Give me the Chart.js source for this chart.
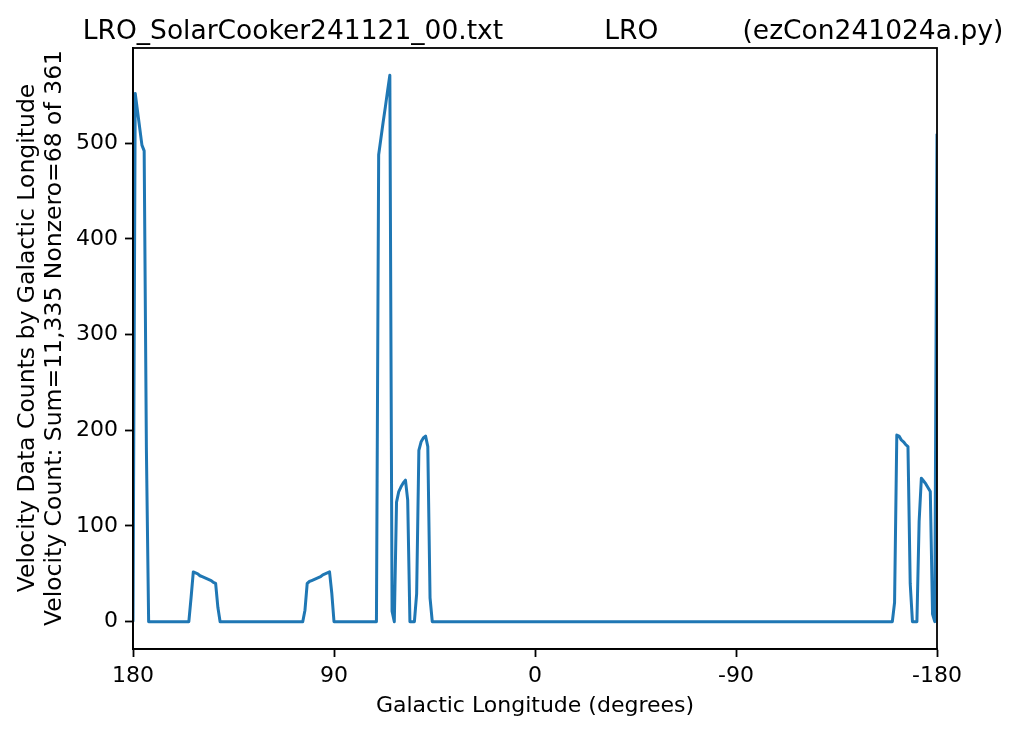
<!DOCTYPE html>
<html>
<head>
<meta charset="utf-8">
<script src="https://cdn.jsdelivr.net/npm/chart.js@4.4.1/dist/chart.umd.min.js"></script>
<style>
  html, body { margin: 0; padding: 0; background: #fff; }
</style>
</head>
<body>
<canvas id="lonChart" width="1024" height="735"></canvas>
<script>
// one bin per degree, +180 down to -180
const lonStart = 180;
const counts = [
  0, 552, 534, 516, 498, 492, 180, 0, 0, 0, 0, 0, 0, 0, 0, 0, 0, 0, 0, 0,
  0, 0, 0, 0, 0, 0, 25, 52, 51, 50, 48, 47, 46, 45, 44, 43, 41, 40, 15, 0,
  0, 0, 0, 0, 0, 0, 0, 0, 0, 0, 0, 0, 0, 0, 0, 0, 0, 0, 0, 0,
  0, 0, 0, 0, 0, 0, 0, 0, 0, 0, 0, 0, 0, 0, 0, 0, 0, 12, 40, 42,
  43, 44, 45, 46, 47, 49, 50, 51, 52, 30, 0, 0, 0, 0, 0, 0, 0, 0, 0, 0,
  0, 0, 0, 0, 0, 0, 0, 0, 0, 0, 488, 505, 522, 538, 555, 571, 11, 0, 125, 136,
  141, 145, 148, 127, 0, 0, 0, 29, 179, 188, 192, 194, 183, 25, 0, 0, 0, 0, 0, 0,
  0, 0, 0, 0, 0, 0, 0, 0, 0, 0, 0, 0, 0, 0, 0, 0, 0, 0, 0, 0,
  0, 0, 0, 0, 0, 0, 0, 0, 0, 0, 0, 0, 0, 0, 0, 0, 0, 0, 0, 0,
  0, 0, 0, 0, 0, 0, 0, 0, 0, 0, 0, 0, 0, 0, 0, 0, 0, 0, 0, 0,
  0, 0, 0, 0, 0, 0, 0, 0, 0, 0, 0, 0, 0, 0, 0, 0, 0, 0, 0, 0,
  0, 0, 0, 0, 0, 0, 0, 0, 0, 0, 0, 0, 0, 0, 0, 0, 0, 0, 0, 0,
  0, 0, 0, 0, 0, 0, 0, 0, 0, 0, 0, 0, 0, 0, 0, 0, 0, 0, 0, 0,
  0, 0, 0, 0, 0, 0, 0, 0, 0, 0, 0, 0, 0, 0, 0, 0, 0, 0, 0, 0,
  0, 0, 0, 0, 0, 0, 0, 0, 0, 0, 0, 0, 0, 0, 0, 0, 0, 0, 0, 0,
  0, 0, 0, 0, 0, 0, 0, 0, 0, 0, 0, 0, 0, 0, 0, 0, 0, 0, 0, 0,
  0, 0, 0, 0, 0, 0, 0, 0, 0, 0, 0, 0, 0, 0, 0, 0, 0, 0, 0, 0,
  0, 20, 195, 194, 190, 188, 185, 183, 40, 0, 0, 0, 105, 150, 147, 144, 140, 136, 8, 0,
  510
];
const xTicks = [180, 90, 0, -90, -180];
const yTicks = [0, 100, 200, 300, 400, 500];
const titleText = "LRO_SolarCooker241121_00.txt            LRO          (ezCon241024a.py)";
const xLabel = "Galactic Longitude (degrees)";
const yLabel = ["Velocity Data Counts by Galactic Longitude", "Velocity Count: Sum=11,335 Nonzero=68 of 361"];

const FONT = "'DejaVu Sans', sans-serif";

// points for the line
const points = counts.map((c, i) => ({ x: lonStart - i, y: c }));

// black box round the plot, drawn over the line like matplotlib spines
const frame = {
    id: "frame",
    afterDatasetsDraw(chart) {
        const { ctx, chartArea: a } = chart;
        ctx.save();
        ctx.strokeStyle = "#000";
        ctx.lineWidth = 1.8;
        ctx.strokeRect(a.left, a.top, a.right - a.left, a.bottom - a.top);
        ctx.restore();
    },
};

// title and the two-line y label, placed by hand
const labels = {
    id: "labels",
    afterDraw(chart) {
        const ctx = chart.ctx;
        ctx.save();
        ctx.fillStyle = "#000";
        ctx.textAlign = "center";
        ctx.font = "26.5px " + FONT;
        ctx.textBaseline = "alphabetic";
        ctx.fillText(titleText, 543, 39);

        ctx.font = "23.5px " + FONT;
        ctx.textBaseline = "middle";
        const xs = [28, 55];
        yLabel.forEach((line, i) => {
            ctx.save();
            ctx.translate(xs[i], 338);
            ctx.rotate(-Math.PI / 2);
            ctx.fillText(line, 0, 0);
            ctx.restore();
        });
        ctx.restore();
    },
};

const tickStyle = { display: true, drawOnChartArea: false, drawTicks: true, tickLength: 8, tickWidth: 1.8, tickColor: "#000" };

new Chart(document.getElementById("lonChart"), {
    type: "line",
    data: {
        datasets: [{
            data: points,
            borderColor: "#1f77b4",
            borderWidth: 3,
            borderJoinStyle: "round",
            pointRadius: 0,
            tension: 0,
            clip: 0,
        }],
    },
    options: {
        responsive: false,
        devicePixelRatio: 1,
        animation: false,
        layout: { padding: { top: 48, right: 87, bottom: 0, left: 0 } },
        plugins: { legend: { display: false }, tooltip: { enabled: false } },
        scales: {
            x: {
                type: "linear",
                reverse: true,
                min: -180,
                max: 180,
                afterBuildTicks: (axis) => { axis.ticks = xTicks.map(v => ({ value: v })); },
                afterFit: (axis) => { axis.height = 86; },
                grid: tickStyle,
                border: { display: true, color: "#000", width: 1.8 },
                ticks: { autoSkip: false, maxRotation: 0, padding: 6, color: "#000", font: { family: FONT, size: 22 }, callback: (v) => String(v) },
                title: { display: true, text: xLabel, color: "#000", font: { family: FONT, size: 22 }, padding: { top: 0, bottom: 16 } },
            },
            y: {
                min: -28.55,
                max: 599.55,
                afterBuildTicks: (axis) => { axis.ticks = yTicks.map(v => ({ value: v })); },
                afterFit: (axis) => { axis.width = 133; },
                grid: tickStyle,
                border: { display: true, color: "#000", width: 1.8 },
                ticks: { autoSkip: false, padding: 7, color: "#000", font: { family: FONT, size: 22 }, callback: (v) => String(v) },
            },
        },
    },
    plugins: [frame, labels],
});
</script>
</body>
</html>
